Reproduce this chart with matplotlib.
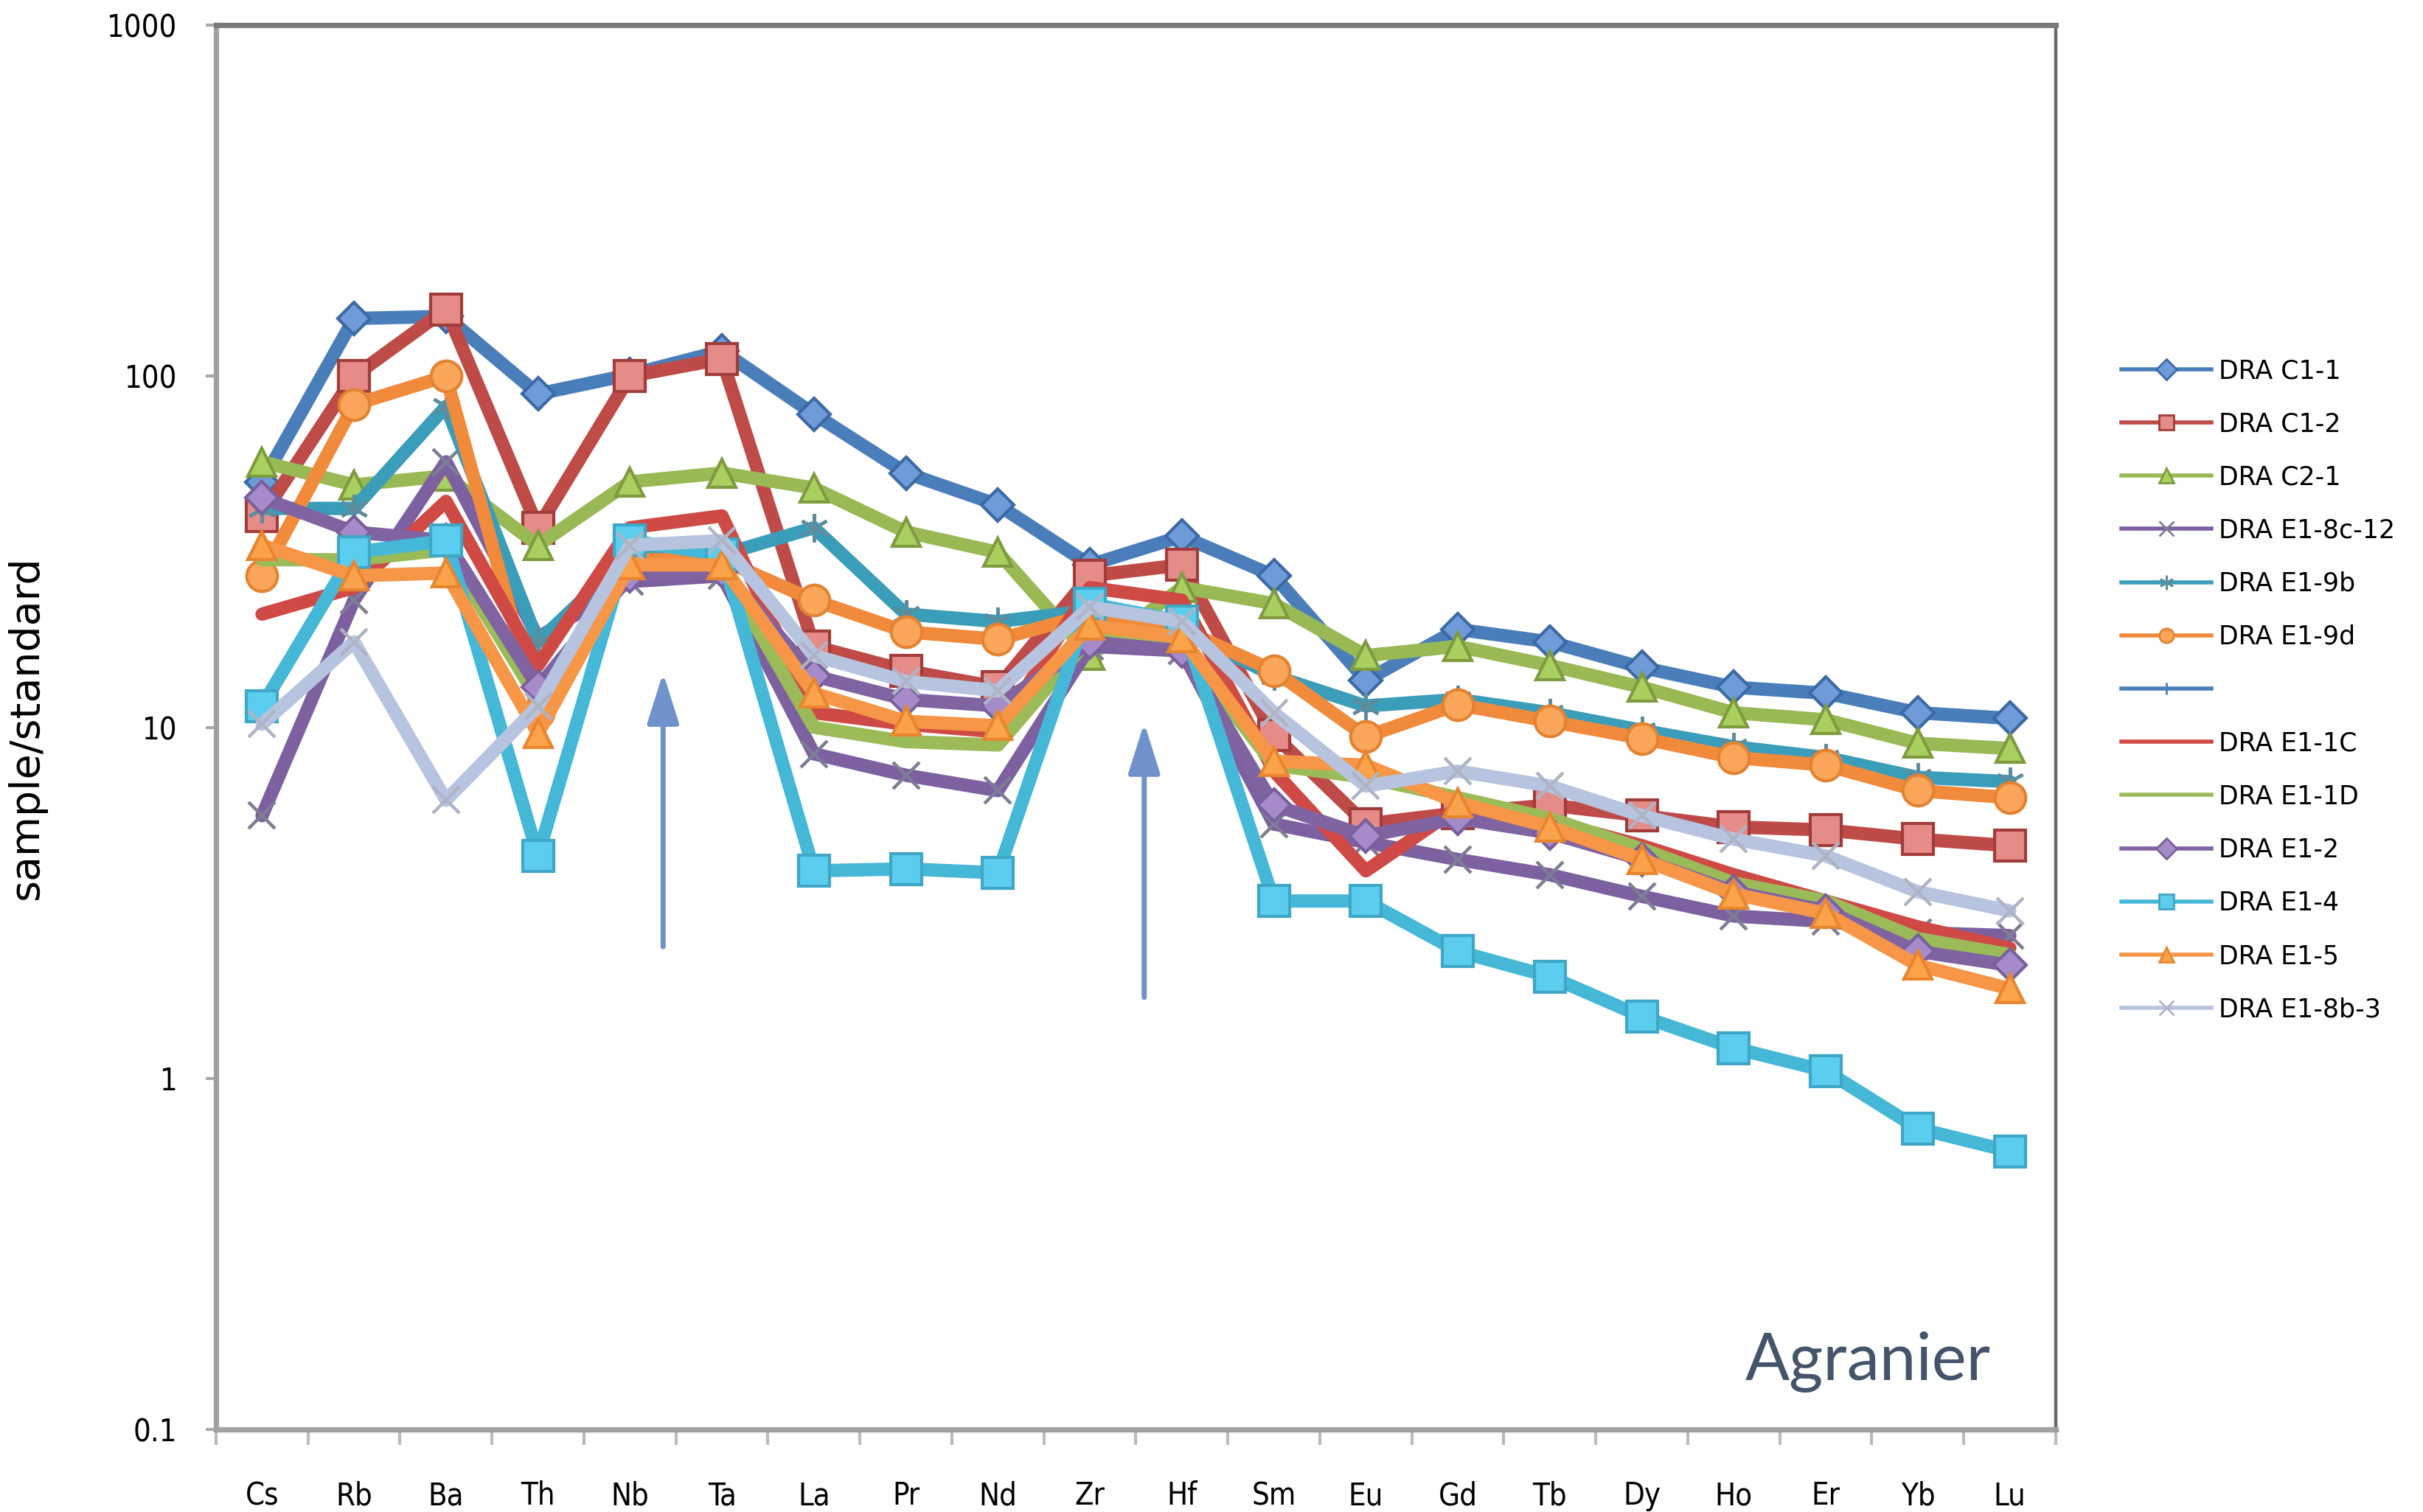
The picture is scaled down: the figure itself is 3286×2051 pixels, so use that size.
import numpy as np
import matplotlib
matplotlib.use("Agg")
from matplotlib import pyplot as plt
from matplotlib.lines import Line2D
from matplotlib.ticker import FixedLocator, NullFormatter, FixedFormatter

elements = ['Cs', 'Rb', 'Ba', 'Th', 'Nb', 'Ta', 'La', 'Pr', 'Nd', 'Zr',
            'Hf', 'Sm', 'Eu', 'Gd', 'Tb', 'Dy', 'Ho', 'Er', 'Yb', 'Lu']

names = ['DRA C1-1', 'DRA C1-2', 'DRA C2-1', 'DRA E1-8c-12', 'DRA E1-9b',
         'DRA E1-9d', '', 'DRA E1-1C', 'DRA E1-1D', 'DRA E1-2', 'DRA E1-4',
         'DRA E1-5', 'DRA E1-8b-3']

c1_1 = [50, 146, 148, 89, 101, 118, 78, 53, 43, 29, 35, 27, 13.6, 19, 17.5, 14.8, 13, 12.5, 11, 10.6]
c1_2 = [40, 100, 155, 37, 100, 112, 17, 14.5, 13, 27, 29, 9.5, 5.3, 5.7, 6.0, 5.6, 5.2, 5.1, 4.8, 4.6]
c2_1 = [57, 49, 52, 33, 50, 53, 48, 36, 31.5, 16, 25, 22.5, 16, 17, 15, 13, 11, 10.5, 9, 8.7]
e1_8c_12 = [5.6, 23, 57, 18, 26, 27, 8.4, 7.3, 6.6, 17, 16.5, 5.3, 4.7, 4.2, 3.8, 3.3, 2.9, 2.8, 2.6, 2.55]
e1_9b = [42, 42, 82, 17.5, 31, 31, 37, 21, 20, 21.5, 19, 14, 11.5, 12, 11, 9.8, 8.8, 8.2, 7.2, 7.0]
e1_9d = [27, 83, 100, 11, 30, 30, 23, 18.7, 17.8, 21, 19, 14.5, 9.4, 11.6, 10.4, 9.3, 8.2, 7.8, 6.6, 6.3]
blank = [np.nan] * 20
e1_1c = [21, 25, 44, 15, 37, 40, 11, 10.2, 9.7, 25, 23, 7.5, 3.9, 5.9, 5.4, 4.6, 3.8, 3.2, 2.7, 2.35]
e1_1d = [30, 30, 32, 12, 28, 28.5, 10, 9.1, 8.9, 18, 17, 7.8, 7.2, 6.3, 5.5, 4.5, 3.6, 3.2, 2.5, 2.25]
e1_2 = [45, 36, 34, 13, 27, 28, 14, 12, 11.5, 17.5, 16.5, 6.0, 4.9, 5.5, 5.0, 4.2, 3.4, 3.0, 2.3, 2.1]
e1_4 = [11.5, 31.5, 34, 4.3, 34, 31, 3.9, 3.95, 3.85, 22.5, 20, 3.2, 3.2, 2.3, 1.95, 1.5, 1.22, 1.05, 0.72, 0.62]
e1_5 = [33, 27, 27.5, 9.6, 29, 29, 12.5, 10.4, 10.1, 19.5, 18, 8.0, 7.8, 6.1, 5.2, 4.2, 3.35, 2.95, 2.1, 1.8]
e1_8b_3 = [10.2, 17.5, 6.2, 11.5, 33, 34, 16, 13.5, 12.7, 22, 20, 11, 6.8, 7.5, 6.8, 5.6, 4.8, 4.3, 3.4, 3.0]

series = [c1_1, c1_2, c2_1, e1_8c_12, e1_9b, e1_9d, blank,
          e1_1c, e1_1d, e1_2, e1_4, e1_5, e1_8b_3]

# arrows drawn on the chart: (x position, tail value, tip value)
arrows = [(4.36, 2.37, 14.3), (9.59, 1.7, 10.3)]

# line colour, marker, marker fill, marker edge, marker size, edge width
styles = [
    ('#4A7EBB', 'D', '#6F9BD8', '#3B6AA5', 11, 1.5),
    ('#BE4B48', 's', '#E58B88', '#A23C3A', 15, 1.5),
    ('#98B954', '^', '#A9D05E', '#7E9B40', 14, 1.5),
    ('#7D60A0', 'x', '#7D7D95', '#7D7D95', 13, 1.6),
    ('#3A9DBA', (6, 2, 0), '#5E8C9C', '#5E8C9C', 14, 1.6),
    ('#F28A3C', 'o', '#F9A55A', '#E38332', 15, 1.5),
    ('#4A7EBB', '+', '#4A7EBB', '#4A7EBB', 6, 1.5),
    ('#CF4A45', 'None', 'none', 'none', 0, 0),
    ('#9BBB59', 'None', 'none', 'none', 0, 0),
    ('#8064A2', 'D', '#A58BC9', '#7A5F9C', 11, 1.5),
    ('#45B8D8', 's', '#5BCDEF', '#3FA6C6', 15, 1.5),
    ('#F79646', '^', '#FBA34A', '#E8862F', 14, 1.5),
    ('#B7C4DF', 'x', '#AEB4C4', '#AEB4C4', 13, 1.6),
]

W, H = 3287, 2051
fig = plt.figure(figsize=(W / 200, H / 200), dpi=200)
ax = fig.add_axes([293 / W, 1 - 1939 / H, (2788 - 293) / W, (1939 - 34) / H])

x = np.arange(len(elements))
for vals, (col, mk, mfc, mec, ms, mew) in zip(series, styles):
    ax.plot(x, vals, color=col, lw=6.5, marker=mk, markersize=ms,
            markerfacecolor=mfc, markeredgecolor=mec, markeredgewidth=mew,
            solid_joinstyle='round', solid_capstyle='round')

for xa, y0, y1 in arrows:
    ax.annotate('', xy=(xa, y1), xytext=(xa, y0),
                arrowprops=dict(arrowstyle='-|>,head_length=0.7,head_width=0.22',
                                color='#7092CC', lw=2.5, mutation_scale=30,
                                shrinkA=0, shrinkB=0))

ax.set_yscale('log')
ax.set_ylim(0.1, 1000)
ax.set_xlim(-0.5, len(elements) - 0.5)

ax.yaxis.set_major_locator(FixedLocator([0.1, 1, 10, 100, 1000]))
ax.yaxis.set_major_formatter(FixedFormatter(['0.1', '1', '10', '100', '1000']))
ax.yaxis.set_minor_locator(FixedLocator([]))
ax.tick_params(axis='y', which='major', direction='out', length=5, width=1.5,
               color='#AAAAAA', pad=14, labelsize=15)

ax.xaxis.set_major_locator(FixedLocator(np.arange(-0.5, len(elements), 1)))
ax.xaxis.set_major_formatter(NullFormatter())
ax.xaxis.set_minor_locator(FixedLocator(x))
ax.xaxis.set_minor_formatter(FixedFormatter(elements))
ax.tick_params(axis='x', which='major', direction='out', length=7.5, width=1.5,
               color='#BBBBBB')
ax.tick_params(axis='x', which='minor', length=0, pad=25, labelsize=15)
for lab in ax.get_xticklabels(minor=True) + ax.get_yticklabels():
    lab.set_family('DejaVu Sans')
    lab.set_stretch('condensed')

ax.spines['left'].set_color('#A0A0A0')
ax.spines['bottom'].set_color('#A0A0A0')
ax.spines['top'].set_color('#7A7A7A')
ax.spines['right'].set_color('#6A6A6A')
for s in ['left', 'bottom', 'top']:
    ax.spines[s].set_linewidth(2.6)
ax.spines['right'].set_linewidth(1.6)

ax.set_ylabel('sample/standard', fontsize=20)
ax.yaxis.set_label_coords(-0.0922, 0.5)

ax.text(0.898, 0.035, 'Agranier', transform=ax.transAxes, fontsize=32,
        family=['Lato', 'DejaVu Sans'], color='#44546A', ha='center', va='baseline')

handles = []
for (col, mk, mfc, mec, ms, mew) in styles:
    handles.append(Line2D([], [], color=col, lw=2, marker=mk,
                          markersize=min(ms, 7) if ms else 0,
                          markerfacecolor=mfc, markeredgecolor=mec,
                          markeredgewidth=1))
fig.legend(handles, names, loc='upper left', bbox_to_anchor=(2877 / W, 1 - 486 / H),
           frameon=False, fontsize=12.5, handlelength=3.5, handletextpad=0.3,
           labelspacing=1.1, borderpad=0, borderaxespad=0)

fig.savefig('out.png', dpi=200)
